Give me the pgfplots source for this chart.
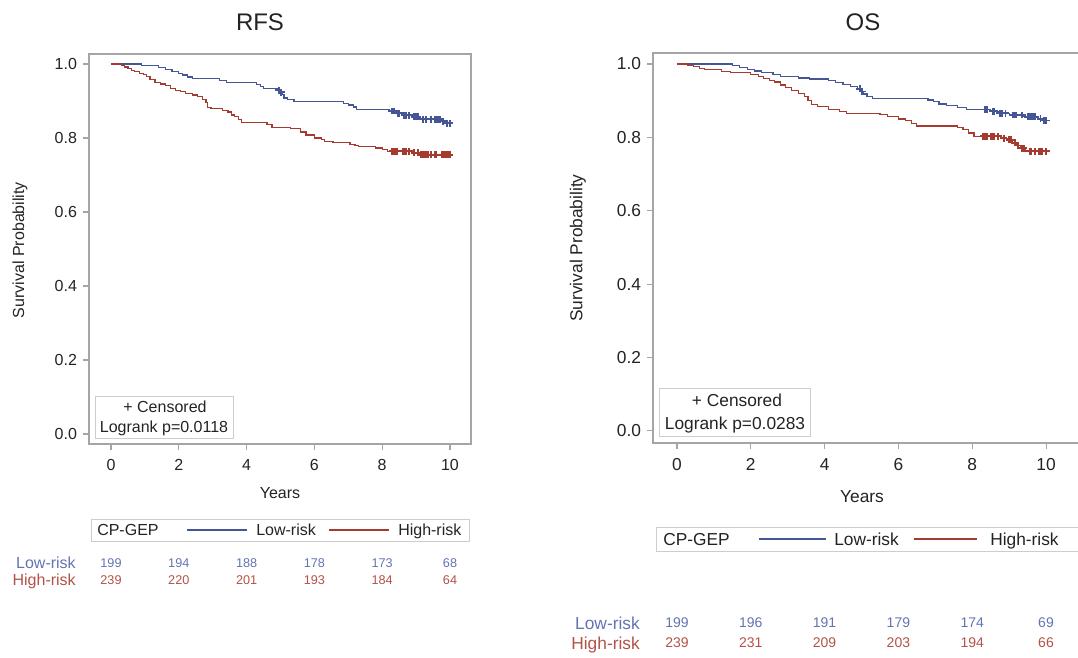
\documentclass[border=0pt]{standalone}
\usepackage{pgfplots}
\pgfplotsset{compat=1.18}
\usepackage{fontspec}
\setmainfont{Liberation Sans}

\definecolor{lowc}{RGB}{68,86,150}
\definecolor{highc}{RGB}{165,58,46}
\definecolor{lowtxt}{RGB}{100,115,178}
\definecolor{hightxt}{RGB}{178,82,72}
\definecolor{framec}{RGB}{165,165,165}
\definecolor{boxc}{RGB}{205,205,205}
\definecolor{txt}{RGB}{35,35,35}

\pgfplotsset{
  km/.style={
    scale only axis, height=292.5pt, clip=false,
    axis line style={draw=framec, line width=0.8pt},
    tick style={draw=framec, line width=0.8pt},
    tick align=outside, tick pos=left, major tick length=4.5pt,
    xtick={0,2,4,6,8,10}, ytick={0,0.2,0.4,0.6,0.8,1},
    /pgf/number format/assume math mode=true,
    xticklabel style={yshift=-3.5pt},
    yticklabel style={xshift=-1pt, /pgf/number format/.cd, fixed, fixed zerofill, precision=1},
  },
  lowline/.style={lowc, line width=0.9pt, const plot, mark=none},
  highline/.style={highc, line width=0.9pt, const plot, mark=none},
  lowcens/.style={lowc, only marks, mark=+, mark size=2.6pt, line width=1.4pt},
  highcens/.style={highc, only marks, mark=+, mark size=2.6pt, line width=1.4pt},
}

\begin{document}
\begin{tikzpicture}

% ---------------- RFS ----------------
\begin{axis}[km, at={(66.75pt,-333pt)}, anchor=south west,
  width=286.5pt, xmin=-0.65, xmax=10.62, ymin=-0.027, ymax=1.027,
  ticklabel style={font=\fontsize{12}{14}\selectfont, text=txt}]
\addplot[lowline] coordinates {
 (0,1.0) (0.9,0.995) (1.4,0.990) (1.6,0.985) (1.8,0.980) (2.0,0.975)
 (2.1,0.970) (2.25,0.965) (2.4,0.960) (3.2,0.955) (3.4,0.949) (4.3,0.944)
 (4.4,0.939) (4.5,0.934) (4.9,0.929) (5.0,0.924) (5.05,0.918) (5.1,0.908)
 (5.2,0.903) (5.4,0.899) (6.85,0.894) (7.0,0.889) (7.15,0.884) (7.25,0.878)
 (8.2,0.873) (8.4,0.867) (8.6,0.862) (8.9,0.857) (9.1,0.851) (9.75,0.845)
 (9.85,0.840) (10,0.840)};
\addplot[lowcens] coordinates {
 (4.95,0.929) (5.02,0.924) (8.3,0.873) (8.35,0.873) (8.45,0.867) (8.5,0.867)
 (8.65,0.862) (8.7,0.862) (8.8,0.862) (8.95,0.857) (9.0,0.857) (9.05,0.857)
 (9.2,0.851) (9.3,0.851) (9.45,0.851) (9.55,0.851) (9.6,0.851) (9.65,0.851)
 (9.7,0.851) (9.8,0.845) (9.9,0.840) (10.0,0.840)};
\addplot[highline] coordinates {
 (0,1.0) (0.3,0.996) (0.4,0.992) (0.5,0.987) (0.6,0.983) (0.7,0.979)
 (0.85,0.975) (0.95,0.971) (1.05,0.966) (1.15,0.958) (1.3,0.950) (1.45,0.946)
 (1.6,0.941) (1.75,0.933) (1.9,0.929) (2.05,0.925) (2.2,0.921) (2.4,0.916)
 (2.55,0.912) (2.7,0.904) (2.8,0.895) (2.85,0.883) (2.95,0.879) (3.3,0.874)
 (3.45,0.870) (3.55,0.862) (3.65,0.858) (3.75,0.849) (3.85,0.841) (4.6,0.837)
 (4.75,0.829) (5.3,0.825) (5.6,0.816) (5.75,0.808) (6.0,0.800) (6.2,0.795)
 (6.3,0.791) (6.55,0.787) (7.05,0.783) (7.2,0.779) (7.3,0.777) (7.8,0.773)
 (8.0,0.769) (8.15,0.764) (8.9,0.760) (9.1,0.755) (10,0.755)};
\addplot[highcens] coordinates {
 (8.3,0.764) (8.35,0.764) (8.4,0.764) (8.45,0.764) (8.6,0.764) (8.65,0.764)
 (8.7,0.764) (8.8,0.764) (8.95,0.760) (9.05,0.760) (9.15,0.755) (9.2,0.755)
 (9.25,0.755) (9.3,0.755) (9.35,0.755) (9.45,0.755) (9.55,0.755) (9.6,0.755)
 (9.75,0.755) (9.8,0.755) (9.85,0.755) (9.9,0.755) (9.95,0.755) (10.0,0.755)};
\end{axis}

% ---------------- OS ----------------
\begin{axis}[km, at={(489.75pt,-332.25pt)}, anchor=south west,
  width=328pt, xmin=-0.65, xmax=11.2, ymin=-0.033, ymax=1.03,
  ticklabel style={font=\fontsize{13}{15}\selectfont, text=txt}]
\addplot[lowline] coordinates {
 (0,1.0) (1.5,0.995) (1.7,0.991) (1.9,0.986) (2.1,0.981) (2.3,0.976)
 (2.6,0.971) (2.8,0.966) (3.3,0.962) (3.6,0.959) (4.1,0.954) (4.3,0.949)
 (4.5,0.944) (4.7,0.939) (4.9,0.932) (5.0,0.925) (5.05,0.918) (5.15,0.912)
 (5.3,0.907) (6.8,0.902) (6.95,0.897) (7.1,0.891) (7.3,0.886) (7.6,0.881)
 (7.85,0.876) (8.5,0.871) (8.7,0.866) (9.0,0.861) (9.4,0.856) (9.8,0.851)
 (9.9,0.846) (10,0.846)};
\addplot[lowcens] coordinates {
 (4.95,0.932) (5.02,0.925) (8.35,0.876) (8.4,0.876) (8.55,0.871) (8.6,0.871)
 (8.75,0.866) (8.8,0.866) (8.9,0.866) (9.1,0.861) (9.15,0.861) (9.2,0.861)
 (9.35,0.861) (9.5,0.856) (9.55,0.856) (9.6,0.856) (9.65,0.856) (9.7,0.856)
 (9.85,0.851) (9.95,0.846) (10.0,0.846)};
\addplot[highline] coordinates {
 (0,1.0) (0.3,0.997) (0.45,0.993) (0.6,0.988) (0.75,0.984) (1.2,0.980)
 (1.45,0.976) (2.0,0.971) (2.2,0.966) (2.35,0.961) (2.5,0.956) (2.65,0.951)
 (2.8,0.943) (2.95,0.935) (3.1,0.927) (3.3,0.920) (3.45,0.912) (3.55,0.900)
 (3.65,0.890) (3.8,0.884) (4.1,0.877) (4.4,0.871) (4.6,0.866) (5.5,0.862)
 (5.7,0.857) (6.0,0.850) (6.2,0.845) (6.35,0.838) (6.5,0.831) (7.6,0.826)
 (7.75,0.821) (7.9,0.812) (8.05,0.803) (8.8,0.798) (8.95,0.793) (9.1,0.785)
 (9.2,0.778) (9.3,0.770) (9.45,0.762) (10,0.762)};
\addplot[highcens] coordinates {
 (8.3,0.803) (8.35,0.803) (8.4,0.803) (8.5,0.803) (8.55,0.803) (8.6,0.803)
 (8.7,0.803) (8.85,0.798) (9.0,0.793) (9.05,0.793) (9.15,0.785) (9.25,0.778)
 (9.35,0.770) (9.4,0.770) (9.55,0.762) (9.6,0.762) (9.7,0.762) (9.8,0.762)
 (9.85,0.762) (9.9,0.762) (10.0,0.762)};
\end{axis}

% ---------- titles, labels, legends, numbers at risk (pixel grid) ----------
\begin{scope}[x=0.75pt, y=-0.75pt, every node/.style={inner sep=0pt, text=txt}]
  % RFS panel
  \node[font=\fontsize{18}{20}\selectfont] at (260,22) {RFS};
  \node[font=\fontsize{12}{14}\selectfont, rotate=90] at (20,250) {Survival Probability};
  \node[font=\fontsize{12}{14}\selectfont] at (280,493) {Years};
  \draw[boxc, line width=0.75pt] (95,396) rectangle (233,438);
  \node[font=\fontsize{12}{14}\selectfont, anchor=base] at (165,412.7) {+ Censored};
  \node[font=\fontsize{12}{14}\selectfont, anchor=base] at (164,432.7) {Logrank p=0.0118};
  \draw[boxc, line width=0.75pt] (91,519) rectangle (469,541);
  \node[font=\fontsize{12}{14}\selectfont, anchor=base west] at (97,535.7) {CP-GEP};
  \draw[lowc, line width=0.8pt] (187,530) -- (247,530);
  \node[font=\fontsize{12}{14}\selectfont, anchor=base west] at (256,535.7) {Low-risk};
  \draw[highc, line width=0.8pt] (329,530) -- (389,530);
  \node[font=\fontsize{12}{14}\selectfont, anchor=base west] at (398,535.7) {High-risk};
  \node[font=\fontsize{12}{14}\selectfont, anchor=base east, text=lowtxt] at (76,568.7) {Low-risk};
  \node[font=\fontsize{12}{14}\selectfont, anchor=base east, text=hightxt] at (76,585.7) {High-risk};
  \foreach \x/\n in {111/199, 178.8/194, 246.6/188, 314.4/178, 382.2/173, 450/68}
    \node[font=\fontsize{9.5}{11}\selectfont, text=lowtxt] at (\x,563) {\n};
  \foreach \x/\n in {111/239, 178.8/220, 246.6/201, 314.4/193, 382.2/184, 450/64}
    \node[font=\fontsize{9.5}{11}\selectfont, text=hightxt] at (\x,580) {\n};

  % OS panel
  \node[font=\fontsize{18}{20}\selectfont] at (863,22) {OS};
  \node[font=\fontsize{13}{15}\selectfont, rotate=90] at (578,248) {Survival Probability};
  \node[font=\fontsize{13}{15}\selectfont] at (862,497) {Years};
  \draw[boxc, line width=0.75pt] (659,388) rectangle (810,436);
  \node[font=\fontsize{13}{15}\selectfont, anchor=base] at (737,406.2) {+ Censored};
  \node[font=\fontsize{13}{15}\selectfont, anchor=base] at (735,429.2) {Logrank p=0.0283};
  \draw[boxc, line width=0.75pt] (656,527) rectangle (1100,551);
  \node[font=\fontsize{13}{15}\selectfont, anchor=base west] at (663,545.2) {CP-GEP};
  \draw[lowc, line width=0.8pt] (759,539) -- (826,539);
  \node[font=\fontsize{13}{15}\selectfont, anchor=base west] at (834,545.2) {Low-risk};
  \draw[highc, line width=0.8pt] (914,539) -- (977,539);
  \node[font=\fontsize{13}{15}\selectfont, anchor=base west] at (990,545.2) {High-risk};
  \node[font=\fontsize{13}{15}\selectfont, anchor=base east, text=lowtxt] at (640,629.2) {Low-risk};
  \node[font=\fontsize{13}{15}\selectfont, anchor=base east, text=hightxt] at (640,649.2) {High-risk};
  \foreach \x/\n in {677/199, 750.8/196, 824.6/191, 898.4/179, 972.2/174, 1046/69}
    \node[font=\fontsize{10.5}{12}\selectfont, text=lowtxt] at (\x,623) {\n};
  \foreach \x/\n in {677/239, 750.8/231, 824.6/209, 898.4/203, 972.2/194, 1046/66}
    \node[font=\fontsize{10.5}{12}\selectfont, text=hightxt] at (\x,643) {\n};
\end{scope}

\pgfresetboundingbox
\path[use as bounding box] (0,0) rectangle (808.5pt,-492.75pt);
\end{tikzpicture}
\end{document}
